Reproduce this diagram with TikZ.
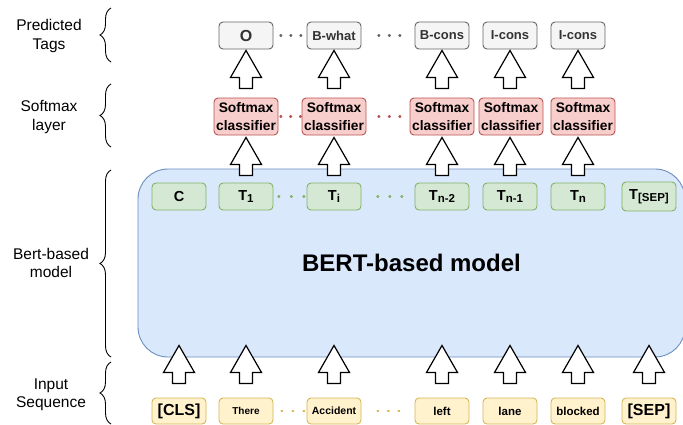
\documentclass[tikz,border=0pt]{standalone}
\usepackage{fontspec}
\setmainfont{Liberation Sans}
\usetikzlibrary{calc,decorations.pathreplacing}
\definecolor{tagfill}{HTML}{F5F5F5}\definecolor{tagdraw}{HTML}{666666}\definecolor{tagtext}{HTML}{333333}
\definecolor{smfill}{HTML}{F8CECC}\definecolor{smdraw}{HTML}{B85450}
\definecolor{tfill}{HTML}{D5E8D4}\definecolor{tdraw}{HTML}{82B366}
\definecolor{infill}{HTML}{FFF2CC}\definecolor{indraw}{HTML}{D6B656}
\definecolor{bertfill}{HTML}{DAE8FC}\definecolor{bertdraw}{HTML}{6C8EBF}
\newcommand{\tsub}[1]{\raisebox{-1.5pt}{\fontsize{11.5}{12}\selectfont #1}}
% block arrow: #1 node giving x, #2 bottom reference, #3 top reference, #4 gap above bottom, #5 gap below top
\newcommand{\blkarr}[5]{\draw[blkarrow] let \p0=(#1), \p1=(#2), \p2=(#3) in
 (\x0-6.5pt,\y1+#4) -- (\x0-6.5pt,\y2-#5-27pt) -- (\x0-15.5pt,\y2-#5-27pt) -- (\x0,\y2-#5)
 -- (\x0+15.5pt,\y2-#5-27pt) -- (\x0+6.5pt,\y2-#5-27pt) -- (\x0+6.5pt,\y1+#4) -- cycle;}
\begin{document}
\begin{tikzpicture}[x=1pt,y=-1pt,
 box/.style={rectangle, rounded corners=4pt, inner sep=0pt, line width=0.9pt, align=center},
 tag/.style={box, fill=tagfill, draw=tagdraw, text=tagtext, minimum width=54pt, minimum height=27pt, font=\bfseries\fontsize{13}{15}\selectfont},
 sm/.style={box, fill=smfill, draw=smdraw, minimum width=64pt, minimum height=37pt, font=\bfseries\fontsize{13.8}{18}\selectfont},
 tok/.style={box, fill=tfill, draw=tdraw, minimum width=54pt, minimum height=27pt, font=\bfseries\fontsize{14.5}{16}\selectfont},
 inp/.style={box, fill=infill, draw=indraw, minimum width=54pt, minimum height=26pt, font=\bfseries\fontsize{11.5}{13}\selectfont},
 bertbox/.style={rectangle, rounded corners=30pt, fill=bertfill, draw=bertdraw, line width=0.9pt, inner sep=0pt, font=\bfseries\fontsize{24}{28}\selectfont},
 lbl/.style={align=center, font=\fontsize{15.5}{18.5}\selectfont},
 brc/.style={decorate, decoration={brace, amplitude=11pt}, line width=0.9pt},
 blkarrow/.style={draw=black, fill=white, line width=1.2pt, line join=miter},
 dotrow/.style={draw=#1, line width=2.4pt, line cap=round}
]
\useasboundingbox (0,0) rectangle (683,424);

% left labels and braces
\node[lbl] (lp) at (49,36) {Predicted\\Tags};
\node[lbl] (ls) at (49,117) {Softmax\\layer};
\node[lbl] (lb) at (51,263) {Bert-based\\model};
\node[lbl] (li) at (51,395) {Input\\Sequence};
\draw[brc] (111,62) -- (111,8);
\draw[brc] (111,147) -- (111,84);
\draw[brc] (111,357) -- (111,170);
\draw[brc] (111,424) -- (111,362);

% BERT box
\node[bertbox, minimum width=547pt, minimum height=188pt] (bert) at (411.5,263) {BERT-based model};

% tags
\node[tag, font=\bfseries\fontsize{16}{18}\selectfont] (o1) at (246,35.5) {O};
\node[tag] (o2) at (334,35.5) {B-what};
\node[tag] (o3) at (442,35.5) {B-cons};
\node[tag] (o4) at (510,35.5) {I-cons};
\node[tag] (o5) at (578,35.5) {I-cons};

% softmax
\node[sm] (s1) at (246,116.5) {Softmax\\classifier};
\node[sm] (s2) at (334,116.5) {Softmax\\classifier};
\node[sm] (s3) at (442,116.5) {Softmax\\classifier};
\node[sm] (s4) at (511,116.5) {Softmax\\classifier};
\node[sm] (s5) at (583,116.5) {Softmax\\classifier};

% token outputs
\node[tok] (t0) at (179,196.5) {C};
\node[tok] (t1) at (246,196.5) {T\tsub{1}};
\node[tok] (t2) at (334,196.5) {T\tsub{i}};
\node[tok] (t3) at (442,196.5) {T\tsub{n-2}};
\node[tok] (t4) at (510,196.5) {T\tsub{n-1}};
\node[tok] (t5) at (578,196.5) {T\tsub{n}};
\node[tok, minimum height=29pt] (t6) at (649,196.5) {T\tsub{[SEP]}};

% inputs
\node[inp, font=\bfseries\fontsize{16}{18}\selectfont] (i0) at (179,411) {[CLS]};
\node[inp, font=\bfseries\fontsize{10}{12}\selectfont] (i1) at (246,411) {There};
\node[inp, font=\bfseries\fontsize{10.5}{12}\selectfont] (i2) at (334,411) {Accident};
\node[inp] (i3) at (442,411) {left};
\node[inp] (i4) at (510,411) {lane};
\node[inp] (i5) at (578,411) {blocked};
\node[inp, font=\bfseries\fontsize{16}{18}\selectfont] (i6) at (649,411) {[SEP]};

% dotted separators (three dots each)
\draw[dotrow=tagdraw, shorten <=7pt, shorten >=3pt, dash pattern=on 0.8pt off 9.2pt] (o1) -- (o2);
\draw[dotrow=tagdraw, shorten <=17pt, shorten >=12pt, dash pattern=on 0.8pt off 9.7pt] (o2) -- (o3);
\draw[dotrow=smdraw, shorten <=2pt, shorten >=0pt, dash pattern=on 0.8pt off 9.0pt] (s1) -- (s2);
\draw[dotrow=smdraw, shorten <=12pt, shorten >=7pt, dash pattern=on 0.8pt off 9.7pt] (s2) -- (s3);
\draw[dotrow=tdraw, shorten <=5pt, shorten >=1pt, dash pattern=on 0.8pt off 11.7pt] (t1) -- (t2);
\draw[dotrow=tdraw, shorten <=16pt, shorten >=10pt, dash pattern=on 0.8pt off 11.2pt] (t2) -- (t3);
\draw[dotrow=indraw, shorten <=8pt, shorten >=1pt, dash pattern=on 0.8pt off 10.2pt] (i1) -- (i2);
\draw[dotrow=indraw, shorten <=16pt, shorten >=13pt, dash pattern=on 0.8pt off 9.7pt] (i2) -- (i3);

% block arrows: softmax -> tags
\blkarr{o1}{s1.north}{o1.south}{9pt}{1pt}
\blkarr{o2}{s2.north}{o2.south}{9pt}{1pt}
\blkarr{o3}{s3.north}{o3.south}{9pt}{1pt}
\blkarr{o4}{s4.north}{o4.south}{9pt}{1pt}
\blkarr{o5}{s5.north}{o5.south}{9pt}{1pt}
% token outputs -> softmax
\blkarr{t1}{t1.north}{s1.south}{7pt}{2pt}
\blkarr{t2}{t2.north}{s2.south}{7pt}{2pt}
\blkarr{t3}{t3.north}{s3.south}{7pt}{2pt}
\blkarr{t4}{t4.north}{s4.south}{7pt}{2pt}
\blkarr{t5}{t5.north}{s5.south}{7pt}{2pt}
% inputs -> BERT
\blkarr{i0}{i0.north}{$(bert.south)+(0,-12)$}{14pt}{0pt}
\blkarr{i1}{i1.north}{$(bert.south)+(0,-12)$}{14pt}{0pt}
\blkarr{i2}{i2.north}{$(bert.south)+(0,-12)$}{14pt}{0pt}
\blkarr{i3}{i3.north}{$(bert.south)+(0,-12)$}{14pt}{0pt}
\blkarr{i4}{i4.north}{$(bert.south)+(0,-12)$}{14pt}{0pt}
\blkarr{i5}{i5.north}{$(bert.south)+(0,-12)$}{14pt}{0pt}
\blkarr{i6}{i6.north}{$(bert.south)+(0,-12)$}{14pt}{0pt}
\end{tikzpicture}
\end{document}
